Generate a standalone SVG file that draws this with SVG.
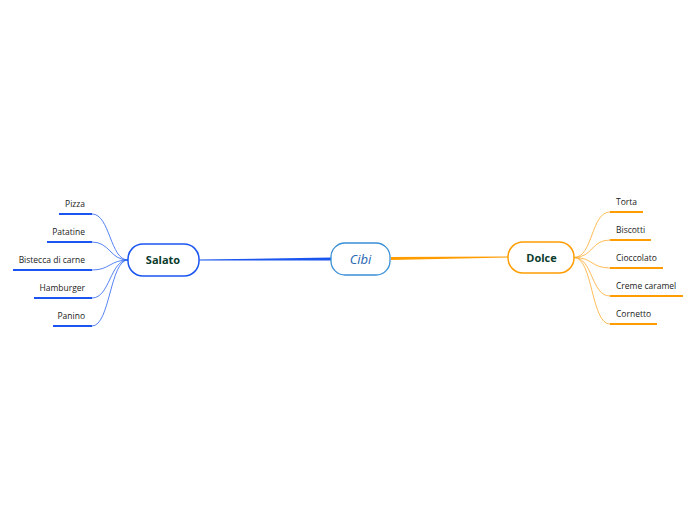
<svg xmlns="http://www.w3.org/2000/svg" width="696" height="520" viewBox="0 0 696 520">
<style>
.leaf{font-family:"Open Sans","Noto Sans",sans-serif;font-size:8.5px;fill:#222}
.main{font-family:"Open Sans","Noto Sans",sans-serif;font-size:11px;font-weight:bold;fill:#0b3b2c}
.bl{fill:none;stroke:#2b63f0;stroke-width:0.8}
.or{fill:none;stroke:#ffab2e;stroke-width:0.8}
.ulb{stroke:#1a55f0;stroke-width:2.2}
.ulo{stroke:#ff9d00;stroke-width:2.2}
</style>
<rect width="696" height="520" fill="#fff"/>
<g id="connectors">
<path d="M199,259.6 L331,257.6 L331,260.6 L199,260.4 Z" fill="#1a55f0"/>
<path d="M391,257 L508,256.6 L508,257.4 L391,260 Z" fill="#ff9d00"/>
<path class="bl" d="M128,260 C110,260 110,214 92,214"/>
<path class="bl" d="M128,260 C110,260 110,242 92,242"/>
<path class="bl" d="M128,260 C110,260 110,270 92,270"/>
<path class="bl" d="M128,260 C110,260 110,298 92,298"/>
<path class="bl" d="M128,260 C110,260 110,326 92,326"/>
<path class="or" d="M574,257.5 C593,257.5 591,212 610,212"/>
<path class="or" d="M574,257.5 C593,257.5 591,240 610,240"/>
<path class="or" d="M574,257.5 C593,257.5 591,268 610,268"/>
<path class="or" d="M574,257.5 C593,257.5 591,296 610,296"/>
<path class="or" d="M574,257.5 C593,257.5 591,324 610,324"/>
</g>
<g id="cibi">
<rect x="331" y="243" width="59" height="32" rx="14" fill="#fff" stroke="#3a8fd6" stroke-width="1.3"/>
<text x="360.5" y="264" text-anchor="middle" font-family="Open Sans, Noto Sans, sans-serif" font-size="13" font-style="italic" fill="#1f66b0">Cibi</text>
</g>
<g id="salato">
<rect x="128" y="244" width="71" height="32" rx="15" fill="#fff" stroke="#1a55f0" stroke-width="1.5"/>
<text x="163" y="264" text-anchor="middle" class="main">Salato</text>
</g>
<g id="dolce">
<rect x="508" y="242" width="66" height="31" rx="15" fill="#fff" stroke="#ff9d00" stroke-width="1.5"/>
<text x="541.5" y="262" text-anchor="middle" class="main">Dolce</text>
</g>
<g id="pizza"><text x="85" y="207" text-anchor="end" class="leaf">Pizza</text><line class="ulb" x1="59" y1="214" x2="92" y2="214"/></g>
<g id="patatine"><text x="85" y="235" text-anchor="end" class="leaf">Patatine</text><line class="ulb" x1="47" y1="242" x2="92" y2="242"/></g>
<g id="bistecca"><text x="85" y="263" text-anchor="end" class="leaf">Bistecca di carne</text><line class="ulb" x1="13" y1="270" x2="92" y2="270"/></g>
<g id="hamburger"><text x="85" y="291" text-anchor="end" class="leaf">Hamburger</text><line class="ulb" x1="34" y1="298" x2="92" y2="298"/></g>
<g id="panino"><text x="85" y="319" text-anchor="end" class="leaf">Panino</text><line class="ulb" x1="53" y1="326" x2="92" y2="326"/></g>
<g id="torta"><text x="616" y="205" class="leaf">Torta</text><line class="ulo" x1="610" y1="212" x2="643" y2="212"/></g>
<g id="biscotti"><text x="616" y="233" class="leaf">Biscotti</text><line class="ulo" x1="610" y1="240" x2="651" y2="240"/></g>
<g id="cioccolato"><text x="616" y="261" class="leaf">Cioccolato</text><line class="ulo" x1="610" y1="268" x2="663" y2="268"/></g>
<g id="creme"><text x="616" y="289" class="leaf">Creme caramel</text><line class="ulo" x1="610" y1="296" x2="683" y2="296"/></g>
<g id="cornetto"><text x="616" y="317" class="leaf">Cornetto</text><line class="ulo" x1="610" y1="324" x2="657" y2="324"/></g>
</svg>
